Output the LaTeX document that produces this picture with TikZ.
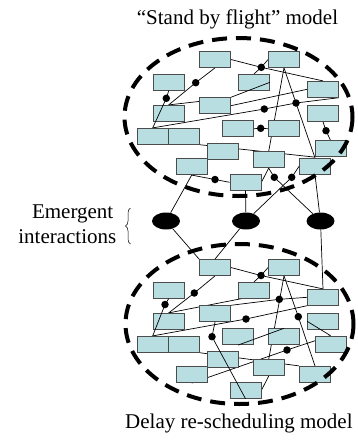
\documentclass[tikz,border=0pt]{standalone}
\usepackage{fontspec}
\setmainfont{Liberation Serif}
\usetikzlibrary{shapes.geometric,decorations.pathreplacing}
\definecolor{boxblue}{RGB}{185,222,226}
\pgfdeclarelayer{back}
\pgfsetlayers{back,main}

\begin{document}
\begin{tikzpicture}[x=1pt, y=-1pt, node distance=31pt,
    box/.style={draw=black!70, fill=boxblue, line width=0.8pt, minimum width=31pt, minimum height=16pt, inner sep=0pt},
    link/.style={line width=0.7pt},
    knot/.style={circle, fill=black, inner sep=0pt, minimum size=7.5pt},
    emer/.style={ellipse, fill=black, inner sep=0pt, minimum width=28pt, minimum height=17pt},
    model/.style={line width=4pt, dash pattern=on 15pt off 9pt},
    lbl/.style={font=\fontsize{21}{25}\selectfont, inner sep=0pt}]
    \useasboundingbox (0,0) rectangle (357,440);

    % stand by flight model
    \node (sa) [box] at (215,59.5) {};
    \node (sb) [box] at (284,59.5) {};
    \node (sc) [box] at (168.7,82.3) {};
    \node (sd) [box] at (254,82.3) {};
    \node (se) [box] at (323,89.3) {};
    \node (sf) [box] at (215,105.7) {};
    \node (sg) [box] at (168.7,113.3) {};
    \node (sh) [box] at (323,113.3) {};
    \node (si) [box] at (238,128.7) {};
    \node (sj) [box] at (284,128.7) {};
    \node (sk) [box] at (152.7,136.3) {};
    \node (sl) [box, right of=sk] {};
    \node (sm) [box] at (222.7,151.3) {};
    \node (sn) [box] at (330.5,148.7) {};
    \node (so) [box] at (268.7,159.7) {};
    \node (sp) [box] at (191.7,166.7) {};
    \node (sq) [box] at (315,166.3) {};
    \node (sr) [box] at (245.5,182.3) {};

    \node (s1) [knot] at (261.3,67.3) {};
    \node (s2) [knot] at (195.7,82.7) {};
    \node (s3) [knot] at (166.3,98.3) {};
    \node (s4) [knot] at (264.3,109) {};
    \node (s5) [knot] at (296,103) {};
    \node (s6) [knot] at (260.7,128.3) {};
    \node (s7) [knot] at (326,130.7) {};
    \node (s8) [knot] at (215,179.5) {};
    \node (s9) [knot] at (274.3,177.3) {};
    \node (s10) [knot] at (291.7,177.3) {};

    % delay re-scheduling model
    \node (da) [box] at (215,267.5) {};
    \node (db) [box] at (284,267.5) {};
    \node (dc) [box] at (168.7,290.3) {};
    \node (dd) [box] at (254,290.3) {};
    \node (de) [box] at (323,297.3) {};
    \node (df) [box] at (215,313.7) {};
    \node (dg) [box] at (168.7,321.3) {};
    \node (dh) [box] at (323,321.3) {};
    \node (di) [box] at (238,336.7) {};
    \node (dj) [box] at (284,336.7) {};
    \node (dk) [box] at (152.7,344.3) {};
    \node (dl) [box, right of=dk] {};
    \node (dm) [box] at (222.7,359.3) {};
    \node (dn) [box] at (330.5,344) {};
    \node (do) [box] at (268.7,367.7) {};
    \node (dp) [box] at (191.7,374.7) {};
    \node (dq) [box] at (315,374.3) {};
    \node (dr) [box] at (245.5,390.3) {};

    \node (d1) [knot] at (261,275.5) {};
    \node (d2) [knot] at (194.3,293) {};
    \node (d3) [knot] at (165,304.5) {};
    \node (d4) [knot] at (279.3,299.3) {};
    \node (d5) [knot] at (246,319) {};
    \node (d6) [knot] at (298.3,316.7) {};
    \node (d7) [knot] at (287,350) {};
    \node (d8) [knot] at (212,336.7) {};

    % emergent interactions
    \node (em1) [emer] at (166,221) {};
    \node (em2) [emer] at (246,221) {};
    \node (em3) [emer] at (320.5,221) {};

    \node (emg) [lbl, anchor=base east] at (113.5,218) {Emergent};
    \node (itr) [lbl, anchor=base east] at (116.5,243) {interactions};
    \draw[decorate, decoration={brace, amplitude=5pt}, line width=0.5pt] (130.5,244) -- (130.5,208);

    \node (sbf) [lbl, anchor=base] at (237.5,24) {“Stand by flight” model};
    \node (drm) [lbl, anchor=base west] at (125,428) {Delay re-scheduling model};

    \begin{pgfonlayer}{back}
    \draw[link] (sa.east) -- (s1.center) -- (se.north);
    \draw[link] (sb.west) -- (s1.center) -- (sd.north);
    \draw[link] (sa.south) -- (s2.center) -- (sg.north);
    \draw[link] (sg.north) -- (sf.165);
    \draw[link] (sf.east) -- (se.west);
    \draw[link] (sk.north) -- (s4.center) -- (s5.center) -- (se.south east);
    \draw[link] (sb.south) -- (so.north);
    \draw[link] (sb.south) -- (s5.center) -- (sq.north);
    \draw[link] (sh.south) -- (s7.center) -- (sn.north);
    \draw[link] (si.east) -- (s6.center) -- (sj.west);
    \draw[link] (sl.south east) -- (sn.south west);
    \draw[link] (sp.south) -- (s8.center) -- (sr.west);
    \draw[link] (so.south) -- (sr.east);

    \draw[link] (da.east) -- (d1.center) -- (de.north);
    \draw[link] (db.west) -- (d1.center) -- (dd.north);
    \draw[link] (da.south) -- (d2.center) -- (dg.north);
    \draw[link] (dg.north) -- (dd.-10);
    \draw[link] (df.north east) -- (d4.center) -- (de.west);
    \draw[link] (dk.north) -- (d5.center) -- (de.south west);
    \draw[link] (db.south) -- (do.north);
    \draw[link] (db.south) -- (d6.center) -- (dq.north);
    \draw[link] (dl.south east) -- (dq.north west);
    \draw[link] (dp.south) -- (d7.center) -- (dn.north);
    \draw[link] (do.south) -- (dr.east);
    \end{pgfonlayer}

    \draw[link] (sc.south) -- (s3.center) -- (sk.north);
    \draw[link] (sf.north east) -- (sd.east);
    \draw[link] (dc.south) -- (d3.center) -- (dk.north);
    \draw[link] (dh.west) -- (dn.north);
    \draw[link] (di.south) -- (dj.north);
    \draw[link] (df.south) -- (d8.center) -- (dr.south);

    \draw[link] (sp.south) -- (em1);
    \draw[link] (sr.south) -- (em2);
    \draw[link] (sq.west) -- (s10.center) -- (em2);
    \draw[link] (so.south) -- (s9.center) -- (em3);
    \draw[link] (sq.south) -- (em3);
    \draw[link] (em1) -- (da.north west);
    \draw[link] (em2) -- (da.north);
    \draw[link] (em3) -- (de.north);

    \draw[model] (238.5,117) ellipse [x radius=114, y radius=79];
    \draw[model] (239.5,324) ellipse [x radius=114, y radius=80];
\end{tikzpicture}
\end{document}
